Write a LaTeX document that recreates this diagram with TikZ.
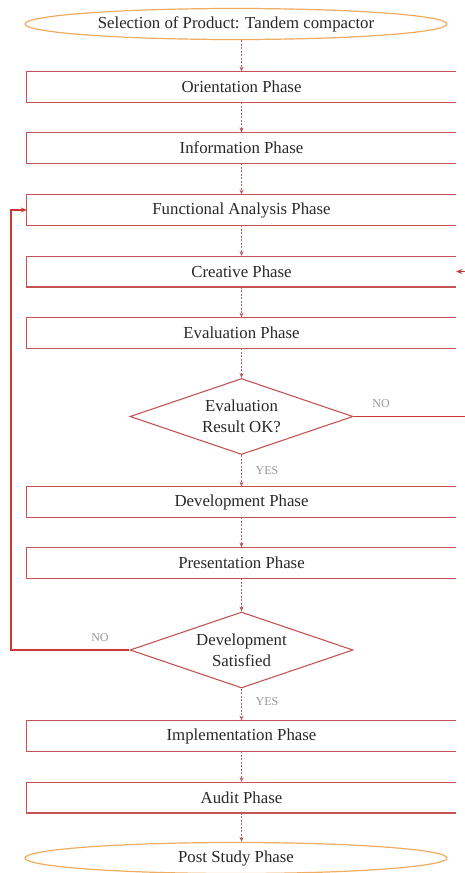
\documentclass[tikz,border=0pt]{standalone}
\usepackage{fontspec}
\setmainfont{Liberation Serif}
\usetikzlibrary{shapes.geometric,arrows.meta}
\definecolor{boxc}{RGB}{196,84,84}
\definecolor{ellc}{RGB}{240,172,96}
\definecolor{connc}{RGB}{176,96,96}
\definecolor{loopc}{RGB}{204,56,56}
\definecolor{textc}{RGB}{40,40,40}
\definecolor{lblc}{RGB}{150,150,150}
\tikzset{
  phase/.style={rectangle, minimum width=429pt, minimum height=30.5pt, inner sep=0pt,
    font=\fontsize{16.8}{20}\selectfont, text=textc},
  boxline/.style={draw=boxc, line width=1.1pt},
  term/.style={ellipse, draw=ellc, line width=1.2pt, fill=white, minimum width=422pt,
    minimum height=31pt, inner sep=0pt, font=\fontsize{16.8}{20}\selectfont, text=textc},
  decide/.style={diamond, aspect=2.9, draw=boxc, line width=1.1pt, minimum width=223pt,
    minimum height=76pt, inner sep=0pt, align=center, font=\fontsize{16.8}{21}\selectfont, text=textc},
  conn/.style={draw=connc, line width=0.6pt, dash pattern=on 2pt off 1.5pt,
    -{Stealth[length=5pt,width=4pt]}},
  loopline/.style={draw=loopc, line width=1.5pt, -{Stealth[length=6pt,width=5pt]}},
  lbl/.style={font=\fontsize{12}{14}\selectfont, text=lblc, inner sep=0pt}
}
\begin{document}
\begin{tikzpicture}[x=1pt,y=-1pt]
\useasboundingbox (0,0) rectangle (465,873);
\clip (0,0) rectangle (465,873);
\node[term] (sel) at (236,24) {Selection of Product: Tandem compactor};
\node[phase] (ori) at (241.5,87) {Orientation Phase};
\node[phase] (inf) at (241.5,148) {Information Phase};
\node[phase] (fun) at (241.5,210) {Functional Analysis Phase};
\node[phase] (cre) at (241.5,271.5) {Creative Phase};
\node[phase] (eva) at (241.5,333) {Evaluation Phase};
\node[decide] (d1) at (241.5,416.5) {Evaluation\\Result OK?};
\node[phase] (dev) at (241.5,502) {Development Phase};
\node[phase] (pre) at (241.5,563) {Presentation Phase};
\node[decide] (d2) at (241.5,650) {Development\\Satisfied};
\node[phase] (imp) at (241.5,736) {Implementation Phase};
\node[phase] (aud) at (241.5,797.5) {Audit Phase};
\node[term] (pst) at (236,858) {Post Study Phase};
\foreach \n in {ori,inf,fun,cre,eva,dev,pre,imp,aud}
  \draw[boxline] (\n.north east) -- (\n.north west) -- (\n.south west) -- (\n.south east);
\draw[conn] (sel.south -| ori.north) -- (ori.north);
\draw[conn] (ori) -- (inf);
\draw[conn] (inf) -- (fun);
\draw[conn] (fun) -- (cre);
\draw[conn] (cre) -- (eva);
\draw[conn] (eva) -- (d1);
\draw[conn] (d1) -- (dev);
\draw[conn] (dev) -- (pre);
\draw[conn] (pre) -- (d2);
\draw[conn] (d2) -- (imp);
\draw[conn] (imp) -- (aud);
\draw[conn] (aud.south) -- (pst.north -| aud.south);
\coordinate (rb) at (478,416.5);
\coordinate (lb) at (11,650);
\draw[loopline] (d1.east) -- (rb) |- (cre.east);
\draw[loopline] (d2.west) -- (lb) |- (fun.west);
\node[lbl] (no1) at (381,404) {NO};
\node[lbl] (yes1) at (267,471) {YES};
\node[lbl] (no2) at (100,638) {NO};
\node[lbl] (yes2) at (267,702) {YES};
\end{tikzpicture}
\end{document}
